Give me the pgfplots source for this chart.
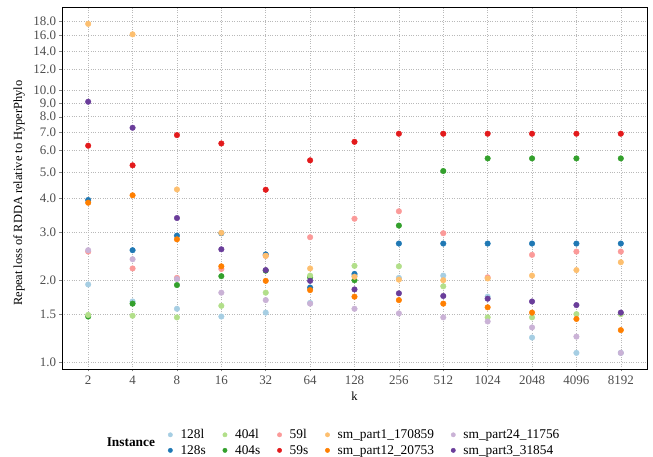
\documentclass[border=0pt]{standalone}
\usepackage{pgfplots}
\pgfplotsset{compat=1.18}
\usepackage{fontspec}
\setmainfont{Liberation Serif}
\definecolor{cA}{HTML}{A6CEE3}
\definecolor{cB}{HTML}{1F78B4}
\definecolor{cC}{HTML}{B2DF8A}
\definecolor{cD}{HTML}{33A02C}
\definecolor{cE}{HTML}{FB9A99}
\definecolor{cF}{HTML}{E31A1C}
\definecolor{cG}{HTML}{FDBF6F}
\definecolor{cH}{HTML}{FF7F00}
\definecolor{cI}{HTML}{CAB2D6}
\definecolor{cJ}{HTML}{6A3D9A}
\definecolor{tick}{HTML}{4D4D4D}
\begin{document}
\begin{tikzpicture}
\path[use as bounding box] (-62bp,-88bp) rectangle (591bp,369bp);
\begin{axis}[
  scale only axis, width=585bp, height=362bp,
  clip=false,
  ymode=log, ymin=0.942, ymax=20.3,
  xmin=0.41, xmax=13.59,
  xtick={1,...,13},
  xticklabels={2,4,8,16,32,64,128,256,512,1024,2048,4096,8192},
  ytick={1,1.5,2,3,4,5,6,7,8,9,10,12,14,16,18},
  yticklabels={1.0,1.5,2.0,3.0,4.0,5.0,6.0,7.0,8.0,9.0,10.0,12.0,14.0,16.0,18.0},
  minor ytick={},
  /pgf/number format/assume math mode=true,
  tick align=outside, major tick length=2.5bp,
  tick style={tick, line width=0.5pt},
  xtick pos=bottom, ytick pos=left,
  ticklabel style={font=\fontsize{13}{15}\selectfont, text=tick},
  xticklabel style={yshift=-1bp},
  label style={font=\fontsize{12.5}{15}\selectfont},
  xlabel={k}, ylabel={Repeat loss of RDDA relative to HyperPhylo},
  xlabel style={at={(axis description cs:0.5,-0.075)}, anchor=center},
  ylabel style={at={(axis description cs:-0.0735,0.486)}, anchor=center},
  grid=major,
  major grid style={gray!55, dotted, line width=0.6pt},
  axis line style={black, line width=0.8pt},
  every axis plot/.append style={only marks, mark=*, mark size=2.8bp},
  legend columns=5,
  legend style={at={(0.176,-0.203)}, anchor=west, draw=none, fill=none,
    font=\fontsize{13.4}{15}\selectfont,
    /tikz/every odd column/.append style={column sep=6bp},
    /tikz/every even column/.append style={column sep=15bp},
    row sep=1bp},
  legend cell align=left,
]
\addlegendimage{only marks, mark=*, mark size=2.2bp, cA}\addlegendentry{128l}
\addlegendimage{only marks, mark=*, mark size=2.2bp, cC}\addlegendentry{404l}
\addlegendimage{only marks, mark=*, mark size=2.2bp, cE}\addlegendentry{59l}
\addlegendimage{only marks, mark=*, mark size=2.2bp, cG}\addlegendentry{sm\_part1\_170859}
\addlegendimage{only marks, mark=*, mark size=2.2bp, cI}\addlegendentry{sm\_part24\_11756}
\addlegendimage{only marks, mark=*, mark size=2.2bp, cB}\addlegendentry{128s}
\addlegendimage{only marks, mark=*, mark size=2.2bp, cD}\addlegendentry{404s}
\addlegendimage{only marks, mark=*, mark size=2.2bp, cF}\addlegendentry{59s}
\addlegendimage{only marks, mark=*, mark size=2.2bp, cH}\addlegendentry{sm\_part12\_20753}
\addlegendimage{only marks, mark=*, mark size=2.2bp, cJ}\addlegendentry{sm\_part3\_31854}
% 128l
\addplot[cA, forget plot] coordinates {(1,1.93)(2,1.67)(3,1.57)(4,1.47)(5,1.52)(6,1.65)(7,2.08)(8,2.04)(9,2.08)(10,1.74)(11,1.23)(12,1.08)(13,1.08)};
% 128s
\addplot[cB, forget plot] coordinates {(1,3.95)(2,2.58)(3,2.92)(4,2.98)(5,2.49)(6,1.88)(7,2.11)(8,2.73)(9,2.73)(10,2.73)(11,2.73)(12,2.73)(13,2.73)};
% 404s
\addplot[cD, forget plot] coordinates {(1,1.47)(2,1.64)(3,1.92)(4,2.07)(5,2.17)(6,2.05)(7,2.00)(8,3.18)(9,5.05)(10,5.62)(11,5.62)(12,5.62)(13,5.62)};
% 404l
\addplot[cC, forget plot] coordinates {(1,1.49)(2,1.48)(3,1.46)(4,1.61)(5,1.80)(6,2.08)(7,2.26)(8,2.25)(9,1.90)(10,1.46)(11,1.46)(12,1.50)(13,1.50)};
% 59l
\addplot[cE, forget plot] coordinates {(1,2.55)(2,2.21)(3,2.04)(4,2.20)(5,2.46)(6,2.88)(7,3.37)(8,3.59)(9,2.98)(10,2.05)(11,2.48)(12,2.55)(13,2.55)};
% 59s
\addplot[cF, forget plot] coordinates {(1,6.26)(2,5.30)(3,6.85)(4,6.38)(5,4.31)(6,5.53)(7,6.47)(8,6.93)(9,6.93)(10,6.93)(11,6.93)(12,6.93)(13,6.93)};
% sm_part1
\addplot[cG, forget plot] coordinates {(1,17.6)(2,16.1)(3,4.32)(4,2.99)(5,2.46)(6,2.21)(7,2.06)(8,2.01)(9,2.00)(10,2.03)(11,2.08)(12,2.18)(13,2.33)};
% sm_part12
\addplot[cH, forget plot] coordinates {(1,3.86)(2,4.11)(3,2.83)(4,2.25)(5,1.99)(6,1.84)(7,1.74)(8,1.69)(9,1.64)(10,1.59)(11,1.52)(12,1.44)(13,1.31)};
% sm_part24
\addplot[cI, forget plot] coordinates {(1,2.58)(2,2.39)(3,2.02)(4,1.80)(5,1.69)(6,1.64)(7,1.57)(8,1.51)(9,1.46)(10,1.41)(11,1.34)(12,1.24)(13,1.08)};
% sm_part3
\addplot[cJ, forget plot] coordinates {(1,9.09)(2,7.29)(3,3.39)(4,2.60)(5,2.18)(6,1.99)(7,1.85)(8,1.79)(9,1.75)(10,1.71)(11,1.67)(12,1.62)(13,1.52)};
\node[anchor=east, font=\bfseries\fontsize{13.4}{15}\selectfont] at (axis description cs:0.165,-0.203) {Instance};
\end{axis}
\end{tikzpicture}
\end{document}
